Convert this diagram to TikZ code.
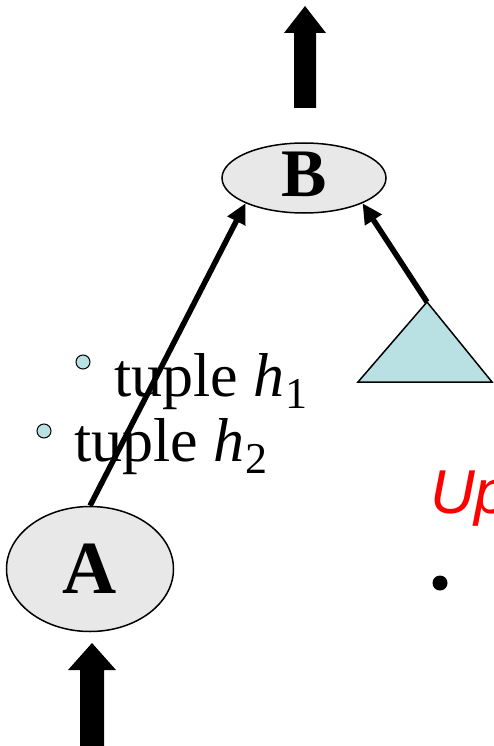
\documentclass[tikz,border=0pt]{standalone}
\usepackage{fontspec}
\setmainfont{Liberation Serif}
\newfontfamily\arialfont{Liberation Sans}
\usetikzlibrary{shapes.geometric,arrows.meta}
\definecolor{nodegray}{RGB}{232,232,232}
\definecolor{treecyan}{RGB}{185,224,227}
\tikzset{
  opnode/.style={ellipse,draw=black,line width=1.5pt,fill=nodegray,inner sep=0pt},
  flowarrow/.style={fill=black,draw=none},
  link/.style={line width=5.5pt,-{Triangle[length=20pt,width=19pt]}},
  tupletext/.style={anchor=base west,inner sep=0pt,font=\fontsize{62pt}{70pt}\selectfont},
  tbullet/.style={circle,draw=black,line width=1pt,fill=treecyan,minimum size=14pt,inner sep=0pt},
}
\newcommand{\subidx}[1]{\hspace{1pt}\raisebox{-12pt}{\fontsize{44pt}{44pt}\selectfont #1}}
\begin{document}
\begin{tikzpicture}[x=1pt,y=-1pt]
\useasboundingbox (0,0) rectangle (493,746);
\fill[white] (0,0) rectangle (493,746);
% top block arrow
\fill[flowarrow] (305,6) -- (326,33) -- (316,33) -- (316,108) -- (294,108) -- (294,33) -- (284,33) -- cycle;
% bottom block arrow
\fill[flowarrow] (92,643) -- (116,670) -- (104,670) -- (104,746) -- (80,746) -- (80,670) -- (68,670) -- cycle;
% nodes
\node[opnode,minimum width=164pt,minimum height=70pt] (B) at (304,178) {};
\node[inner sep=0pt,font=\fontsize{68pt}{68pt}\selectfont\bfseries] (Blabel) at (304,174.5) {B};
\node[opnode,minimum width=167pt,minimum height=125pt] (A) at (90,569) {\fontsize{75pt}{75pt}\selectfont\bfseries A};
% triangle
\coordinate (T) at (427,302);
\filldraw[fill=treecyan,draw=black,line width=1.5pt] (T) -- (492,382) -- (358,382) -- cycle;
% connectors
\draw[link] (A.north) -- (B.south west);
\draw[link] (T) -- (B.south east);
% tuples
\node[tbullet] (b1) at (83,362) {};
\node[tupletext] (t1) at (114,396) {tuple \textit{h}\subidx{1}};
\node[tbullet] (b2) at (44,431) {};
\node[tupletext] (t2) at (74,461) {tuple \textit{h}\subidx{2}};
% red text and bullet
\node[anchor=base west,inner sep=0pt,text=red,font=\arialfont\itshape\fontsize{62pt}{62pt}\selectfont] (up) at (430,513) {Up};
\node[circle,fill=black,minimum size=15pt,inner sep=0pt] (dot) at (440,583) {};
\end{tikzpicture}
\end{document}
